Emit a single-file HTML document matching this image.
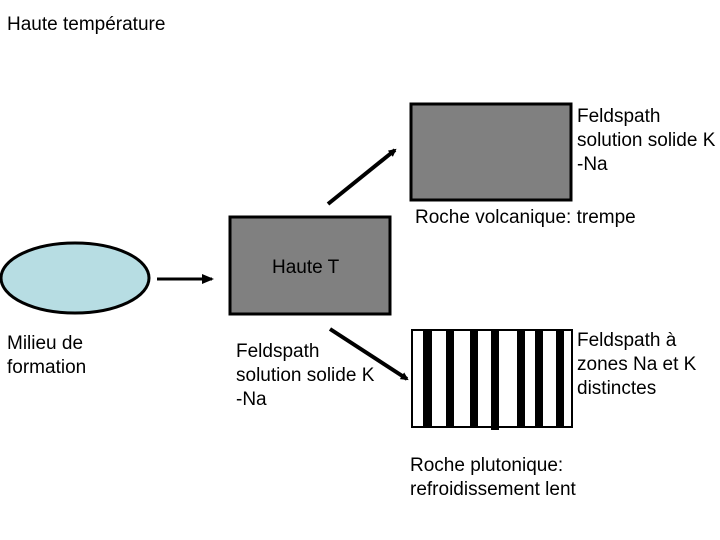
<!DOCTYPE html>
<html><head><meta charset="utf-8"><style>
html,body{margin:0;padding:0;background:#fff;}
svg{display:block;}
text{font-family:"Liberation Sans",sans-serif;font-size:19px;fill:#000;}
</style></head><body>
<svg width="720" height="540" viewBox="0 0 720 540" xmlns="http://www.w3.org/2000/svg">
<defs>
<marker id="a" markerWidth="8" markerHeight="8" refX="6" refY="4" orient="auto" markerUnits="userSpaceOnUse">
<path d="M0,0 L8,4 L0,8 Z" fill="#000"/>
</marker>
<marker id="b" markerWidth="12" markerHeight="10" refX="10" refY="5" orient="auto" markerUnits="userSpaceOnUse">
<path d="M0,0 L12,5 L0,10 Z" fill="#000"/>
</marker>
</defs>
<text x="7" y="30">Haute température</text>

<rect x="411" y="104" width="160" height="96" fill="#808080" stroke="#000" stroke-width="3"/>
<text x="577" y="122">Feldspath</text>
<text x="577" y="146">solution solide K</text>
<text x="577" y="170">-Na</text>
<text x="415" y="223">Roche volcanique: trempe</text>
<line x1="328" y1="204" x2="395" y2="150" stroke="#000" stroke-width="4" marker-end="url(#a)"/>

<ellipse cx="75" cy="278" rx="74" ry="35" fill="#b7dde3" stroke="#000" stroke-width="3"/>
<line x1="157" y1="279" x2="212" y2="279" stroke="#000" stroke-width="3" marker-end="url(#b)"/>
<rect x="230" y="217" width="160" height="97" fill="#808080" stroke="#000" stroke-width="3"/>
<text x="272" y="273">Haute T</text>

<text x="7" y="349">Milieu de</text>
<text x="7" y="373">formation</text>
<text x="236" y="357">Feldspath</text>
<text x="236" y="381">solution solide K</text>
<text x="236" y="405">-Na</text>
<line x1="330" y1="329" x2="407" y2="379" stroke="#000" stroke-width="4" marker-end="url(#a)"/>

<rect x="412" y="330" width="160" height="97" fill="#fff" stroke="#000" stroke-width="2"/>
<g fill="#000">
<rect x="423" y="330" width="9" height="97"/>
<rect x="446" y="330" width="8" height="97"/>
<rect x="470" y="330" width="8" height="97"/>
<rect x="491" y="330" width="8" height="100"/>
<rect x="517" y="330" width="8" height="97"/>
<rect x="535" y="330" width="8" height="97"/>
<rect x="556" y="330" width="8" height="97"/>
</g>
<text x="577" y="346">Feldspath à</text>
<text x="577" y="370">zones Na et K</text>
<text x="577" y="394">distinctes</text>
<text x="410" y="471">Roche plutonique:</text>
<text x="410" y="495">refroidissement lent</text>
</svg>
</body></html>
